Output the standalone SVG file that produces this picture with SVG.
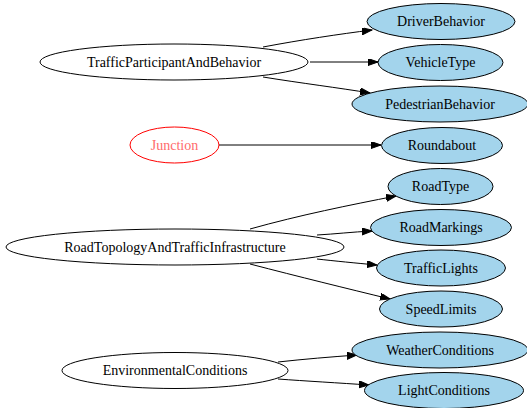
<svg xmlns="http://www.w3.org/2000/svg" width="527" height="408" viewBox="0 0 527 408">
<defs>
<marker id="arr" markerUnits="userSpaceOnUse" markerWidth="11" markerHeight="8" refX="10" refY="3.5" orient="auto">
<path d="M0,0 L10,3.5 L0,7 z" fill="#000" stroke="#000" stroke-width="1"/>
</marker>
</defs>
<style>
.src { fill: #fff; stroke: #000; stroke-width: 1; }
.dst { fill: #a3d4ec; stroke: #000; stroke-width: 1; }
.edge { fill: none; stroke: #000; stroke-width: 1; marker-end: url(#arr); }
</style>
<rect width="527" height="408" fill="#fff"/>
<g id="edges">
<path class="edge" d="M263,47 C300,40 340,34 372,30"/>
<path class="edge" d="M310,62 L378,62"/>
<path class="edge" d="M263,77 C300,83 340,88 370,93"/>
<path class="edge" d="M219,145 L381,145"/>
<path class="edge" d="M250,229 C300,215 350,205 396,196"/>
<path class="edge" d="M317,235 C335,234 352,232 372,231"/>
<path class="edge" d="M317,259 C335,261 355,263 377,265"/>
<path class="edge" d="M250,264 C300,277 345,288 390,299"/>
<path class="edge" d="M278,362 C305,359 330,357 357,355"/>
<path class="edge" d="M278,379 C305,381 340,383 369,385"/>
</g>
<g font-family="'Liberation Serif', 'Times New Roman', serif" font-size="14" text-anchor="middle" fill="#000">
<g id="TrafficParticipantAndBehavior"><ellipse class="src" cx="174" cy="62" rx="134" ry="18"/><text x="174" y="66.5">TrafficParticipantAndBehavior</text></g>
<g id="Junction"><ellipse cx="174.5" cy="145" rx="44.5" ry="18" fill="#fff" stroke="#ff0000"/><text x="174.5" y="149.5" fill="#ff6b6b">Junction</text></g>
<g id="RoadTopologyAndTrafficInfrastructure"><ellipse class="src" cx="175" cy="247" rx="169" ry="18"/><text x="175" y="251.5">RoadTopologyAndTrafficInfrastructure</text></g>
<g id="EnvironmentalConditions"><ellipse class="src" cx="175" cy="370.5" rx="113" ry="18"/><text x="175" y="375">EnvironmentalConditions</text></g>
<g id="DriverBehavior"><ellipse class="dst" cx="441" cy="21.5" rx="74" ry="18"/><text x="441" y="26">DriverBehavior</text></g>
<g id="VehicleType"><ellipse class="dst" cx="440.5" cy="62.5" rx="62.5" ry="18"/><text x="440.5" y="67">VehicleType</text></g>
<g id="PedestrianBehavior"><ellipse class="dst" cx="440" cy="104" rx="88" ry="18"/><text x="440" y="108.5">PedestrianBehavior</text></g>
<g id="Roundabout"><ellipse class="dst" cx="442" cy="145.5" rx="60.5" ry="18"/><text x="442" y="150">Roundabout</text></g>
<g id="RoadType"><ellipse class="dst" cx="440.5" cy="186.5" rx="52.5" ry="18"/><text x="440.5" y="191">RoadType</text></g>
<g id="RoadMarkings"><ellipse class="dst" cx="441" cy="227.5" rx="70.5" ry="18"/><text x="441" y="232">RoadMarkings</text></g>
<g id="TrafficLights"><ellipse class="dst" cx="441" cy="268" rx="64.5" ry="18"/><text x="441" y="272.5">TrafficLights</text></g>
<g id="SpeedLimits"><ellipse class="dst" cx="441" cy="309" rx="61.5" ry="18"/><text x="441" y="313.5">SpeedLimits</text></g>
<g id="WeatherConditions"><ellipse class="dst" cx="440" cy="350" rx="88" ry="18"/><text x="440" y="354.5">WeatherConditions</text></g>
<g id="LightConditions"><ellipse class="dst" cx="444" cy="390.5" rx="79.5" ry="18"/><text x="444" y="395">LightConditions</text></g>
</g>
</svg>
